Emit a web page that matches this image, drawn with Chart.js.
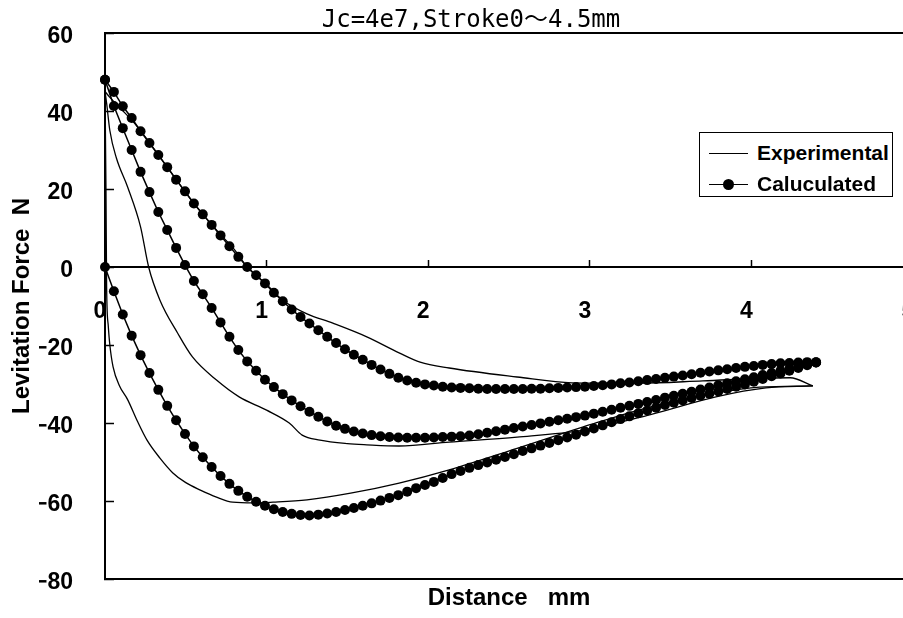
<!DOCTYPE html>
<html>
<head>
<meta charset="utf-8">
<title>Levitation force vs distance</title>
<script src="https://cdn.jsdelivr.net/npm/chart.js@4.4.1/dist/chart.umd.min.js"></script>
<style>
    html, body { margin: 0; padding: 0; overflow: hidden; background: #fff; }
    #wrap { position: relative; width: 903px; height: 618px; }
    #legend {
        position: absolute; left: 699px; top: 132px; width: 192px; height: 63px;
        border: 1px solid #000; background: #fff;
        font: bold 21px 'Liberation Sans', Arial, sans-serif; color: #000;
    }
    .row { position: absolute; left: 0; width: 100%; height: 30px; line-height: 30px; }
    .sample { position: absolute; left: 9px; top: 15px; width: 39px; border-top: 1.5px solid #000; }
    .dot { position: absolute; left: 14px; top: -6px; width: 11px; height: 11px; border-radius: 50%; background: #000; }
    .txt { position: absolute; left: 57px; top: 0; white-space: nowrap; }
</style>
</head>
<body>
<div id="wrap">
    <canvas id="chart" width="903" height="618"></canvas>
    <div id="legend"></div>
</div>
<script>
// Chart texts
const chartTitle = 'Jc=4e7,Stroke0～4.5mm';
const xTitle = 'Distance   mm';
const yTitle = 'Levitation Force  N';
const legendLabels = ['Experimental', 'Caluculated'];

// Axis ticks
const xTicks = [0, 1, 2, 3, 4, 5];
const yTicks = [60, 40, 20, 0, -20, -40, -60, -80];

// Calculated curves: one dot every 0.055 mm
const calcDistance = [
    0, 0.055, 0.11, 0.165, 0.22, 0.275, 0.33, 0.385, 0.44, 0.495,
    0.55, 0.605, 0.66, 0.715, 0.77, 0.825, 0.88, 0.935, 0.99, 1.045,
    1.1, 1.155, 1.21, 1.265, 1.32, 1.375, 1.43, 1.485, 1.54, 1.595,
    1.65, 1.705, 1.76, 1.815, 1.87, 1.925, 1.98, 2.035, 2.09, 2.145,
    2.2, 2.255, 2.31, 2.365, 2.42, 2.475, 2.53, 2.585, 2.64, 2.695,
    2.75, 2.805, 2.86, 2.915, 2.97, 3.025, 3.08, 3.135, 3.19, 3.245,
    3.3, 3.355, 3.41, 3.465, 3.52, 3.575, 3.63, 3.685, 3.74, 3.795,
    3.85, 3.905, 3.96, 4.015, 4.07, 4.125, 4.18, 4.235, 4.29, 4.345,
    4.4
];
const calcUpper = [
    48, 44.9, 41.2, 38.2, 34.8, 31.8, 28.7, 25.6, 22.4, 19.4,
    16.3, 13.5, 10.8, 8.1, 5.3, 2.6, 0, -2.1, -4.2, -6.6,
    -8.8, -10.9, -12.8, -14.5, -16.2, -17.9, -19.5, -21.1, -22.5, -23.8,
    -25.1, -26.3, -27.4, -28.4, -29.1, -29.7, -30.1, -30.4, -30.7, -30.9,
    -31, -31.1, -31.2, -31.3, -31.3, -31.3, -31.3, -31.3, -31.2, -31.2,
    -31.1, -31, -30.9, -30.8, -30.7, -30.5, -30.3, -30.1, -29.8, -29.6,
    -29.3, -29, -28.7, -28.4, -28.1, -27.8, -27.5, -27.1, -26.8, -26.5,
    -26.2, -25.9, -25.6, -25.4, -25.1, -24.9, -24.7, -24.6, -24.5, -24.4,
    -24.4
];
const calcMiddle = [
    48, 41.3, 35.6, 30, 24.4, 19.2, 14.1, 9.5, 4.9, 0.5,
    -3.6, -7, -10.5, -14.2, -17.9, -21.3, -24.2, -26.6, -28.9, -30.8,
    -32.6, -34.2, -35.7, -37.1, -38.4, -39.6, -40.7, -41.5, -42.2, -42.7,
    -43.1, -43.4, -43.6, -43.7, -43.8, -43.8, -43.8, -43.7, -43.6, -43.5,
    -43.4, -43.2, -42.9, -42.5, -42.1, -41.7, -41.3, -40.9, -40.5, -40.1,
    -39.7, -39.3, -38.9, -38.5, -38.1, -37.6, -37.1, -36.6, -36.1, -35.6,
    -35.1, -34.6, -34.1, -33.5, -33, -32.5, -32, -31.4, -30.9, -30.3,
    -29.8, -29.3, -28.8, -28.3, -27.7, -27.2, -26.6, -26.1, -25.5, -25,
    -24.5
];
const calcLower = [
    0, -6.2, -12.2, -17.6, -22.6, -27.2, -31.5, -35.6, -39.3, -42.8,
    -46, -48.8, -51.3, -53.6, -55.6, -57.4, -58.9, -60.2, -61.2, -62.1,
    -62.8, -63.3, -63.6, -63.7, -63.5, -63.2, -62.8, -62.3, -61.8, -61.2,
    -60.6, -59.9, -59.2, -58.5, -57.6, -56.7, -55.9, -55.1, -54.1, -53.1,
    -52.3, -51.5, -50.8, -50.1, -49.4, -48.7, -48, -47.2, -46.5, -45.8,
    -45.1, -44.4, -43.7, -43, -42.2, -41.4, -40.6, -39.8, -39, -38.3,
    -37.5, -36.8, -36.1, -35.4, -34.8, -34.2, -33.6, -33, -32.5, -31.9,
    -31.3, -30.7, -30.1, -29.4, -28.7, -28, -27.3, -26.6, -25.9, -25.2,
    -24.5
];

// Experimental curves (thin lines)
const expUpperX = [0, 0.03, 0.1, 0.2, 0.3, 0.4, 0.5, 0.6, 0.7, 0.8, 0.88, 1.0, 1.1, 1.25, 1.41, 1.62, 1.82, 1.95, 2.13, 2.55, 2.89, 3.3, 3.7, 4.1, 4.24, 4.38];
const expUpperY = [45, 43.5, 40.5, 36, 30.5, 24.8, 19, 13.8, 9, 4.5, 0, -4.5, -8.5, -12, -14.4, -17.9, -22, -24.4, -25.9, -28.2, -29.7, -29.8, -29.2, -28.5, -28.4, -30.5];
const expMiddleX = [0, 0.01, 0.03, 0.07, 0.14, 0.22, 0.27, 0.34, 0.45, 0.54, 0.69, 0.83, 1.0, 1.14, 1.22, 1.33, 1.5, 1.62, 1.82, 2.13, 2.55, 2.96, 3.37, 3.78, 4.09, 4.38];
const expMiddleY = [45, 42, 35, 28, 20.5, 10.3, 0, -8.5, -17, -23, -29, -33.3, -36.7, -40, -43.1, -44.4, -45.3, -45.6, -45.9, -44.9, -43.6, -41.8, -37.9, -33.3, -31, -30.5];
const expLowerX = [0, 0.006, 0.01, 0.02, 0.03, 0.05, 0.09, 0.14, 0.2, 0.26, 0.34, 0.42, 0.5, 0.59, 0.69, 0.79, 0.92, 1.04, 1.25, 1.52, 1.82, 2.13, 2.55, 2.96, 3.37, 3.78, 4.05, 4.38];
const expLowerY = [45, 20, -5, -15, -20, -25.6, -30.5, -34, -39.5, -44.4, -49, -52.8, -55.3, -57.2, -59, -60.3, -60.5, -60.3, -59.7, -58, -55.4, -52, -46.5, -41, -35.9, -32.3, -30.8, -30.5];

const fontFamily = "'Liberation Sans', Arial, sans-serif";
Chart.defaults.font.family = fontFamily;
Chart.defaults.color = '#000';

function toPoints(xs, ys) {
    return xs.map((x, i) => ({ x: x, y: ys[i] }));
}

function calcDataset(ys) {
    return {
        label: legendLabels[1],
        data: toPoints(calcDistance, ys),
        showLine: true,
        borderColor: '#000',
        borderWidth: 1.5,
        pointRadius: 5,
        pointHoverRadius: 5,
        pointBackgroundColor: '#000',
        pointBorderWidth: 0,
        clip: 8,
        xAxisID: 'x',
        yAxisID: 'y'
    };
}

function expDataset(xs, ys) {
    return {
        label: legendLabels[0],
        data: toPoints(xs, ys),
        showLine: true,
        borderColor: '#000',
        borderWidth: 1.3,
        pointRadius: 0,
        pointHoverRadius: 0,
        cubicInterpolationMode: 'monotone',
        clip: 8,
        xAxisID: 'x',
        yAxisID: 'y'
    };
}

const bold = size => ({ family: fontFamily, size: size, weight: 'bold' });
const useTicks = list => scale => { scale.ticks = list.map(v => ({ value: v })); };
const minus = v => String(v).replace('-', '\u2212');

// In the original the plot box runs on past the right edge of the picture,
// so x = 5 is cut off. Chart.js keeps the plot inside the canvas, so widen it after layout.
const plotRight = 913;
const overhang = {
    id: 'overhang',
    afterLayout(chart) {
        const area = chart.chartArea;
        area.right = plotRight;
        area.width = area.right - area.left;
        Object.values(chart.scales).forEach(s => {
            if (s.isHorizontal()) {
                s.right = plotRight;
                s.width = s.right - s.left;
                s.configure();
            }
        });
    }
};

new Chart(document.getElementById('chart'), {
    type: 'scatter',
    data: {
        datasets: [
            calcDataset(calcUpper),
            calcDataset(calcMiddle),
            calcDataset(calcLower),
            expDataset(expUpperX, expUpperY),
            expDataset(expMiddleX, expMiddleY),
            expDataset(expLowerX, expLowerY)
        ]
    },
    plugins: [overhang],
    options: {
        responsive: false,
        animation: false,
        devicePixelRatio: 1,
        layout: { padding: { left: 39, right: 0, top: 0, bottom: 0 } },
        plugins: {
            legend: { display: false },
            tooltip: { enabled: false },
            title: {
                display: true,
                text: chartTitle,
                color: '#000',
                font: { family: "'DejaVu Sans Mono', 'Noto Sans CJK JP', monospace", size: 24, weight: 'normal', lineHeight: 1 },
                padding: { top: 9, bottom: 0 }
            }
        },
        scales: {
            x: {
                type: 'linear',
                position: 'bottom',
                min: 0,
                max: 5,
                afterBuildTicks: useTicks(xTicks),
                ticks: { display: false },
                grid: { display: false },
                border: { display: true, color: '#000', width: 2 },
                title: { display: true, text: xTitle, color: '#000', font: bold(24), padding: { top: 0, bottom: 5 } },
                afterFit: s => { s.height = 39; s.paddingLeft = 0; s.paddingRight = 0; }
            },
            xZero: {
                type: 'linear',
                position: { y: 0 },
                min: 0,
                max: 5,
                afterBuildTicks: useTicks(xTicks),
                ticks: { padding: 39, labelOffset: -5, maxRotation: 0, color: '#000', font: bold(23) },
                grid: { drawOnChartArea: false, drawTicks: true, tickLength: -8, tickColor: '#000', tickWidth: 1.5 },
                border: { display: true, color: '#000', width: 2 },
                afterFit: s => { s.height = 0; s.paddingLeft = 0; s.paddingRight = 0; }
            },
            xTop: {
                type: 'linear',
                position: 'top',
                min: 0,
                max: 5,
                ticks: { display: false },
                grid: { display: false },
                border: { display: true, color: '#000', width: 2 },
                afterFit: s => { s.height = 0; s.paddingLeft = 0; s.paddingRight = 0; }
            },
            y: {
                type: 'linear',
                position: 'left',
                min: -80,
                max: 60,
                afterBuildTicks: useTicks(yTicks),
                ticks: { padding: 41, labelOffset: 4, color: '#000', font: bold(23), callback: v => minus(v) },
                grid: { drawOnChartArea: false, drawTicks: true, tickLength: -9, tickColor: '#000', tickWidth: 1.5 },
                border: { display: true, color: '#000', width: 2 },
                title: { display: true, text: yTitle, color: '#000', font: bold(24), padding: { top: -31.4, bottom: 0 } },
                afterFit: s => { s.width = 66; s.paddingTop = 0; s.paddingBottom = 0; }
            }
        }
    }
});

// Legend box drawn as HTML, like the boxed legend of the original
const legendEl = document.getElementById('legend');
legendLabels.forEach((label, i) => {
    const row = document.createElement('div');
    row.className = 'row';
    row.style.top = (5 + i * 31) + 'px';
    const sample = document.createElement('div');
    sample.className = 'sample';
    if (i === 1) {
        const dot = document.createElement('div');
        dot.className = 'dot';
        sample.appendChild(dot);
    }
    const txt = document.createElement('span');
    txt.className = 'txt';
    txt.textContent = label;
    row.appendChild(sample);
    row.appendChild(txt);
    legendEl.appendChild(row);
});
</script>
</body>
</html>
